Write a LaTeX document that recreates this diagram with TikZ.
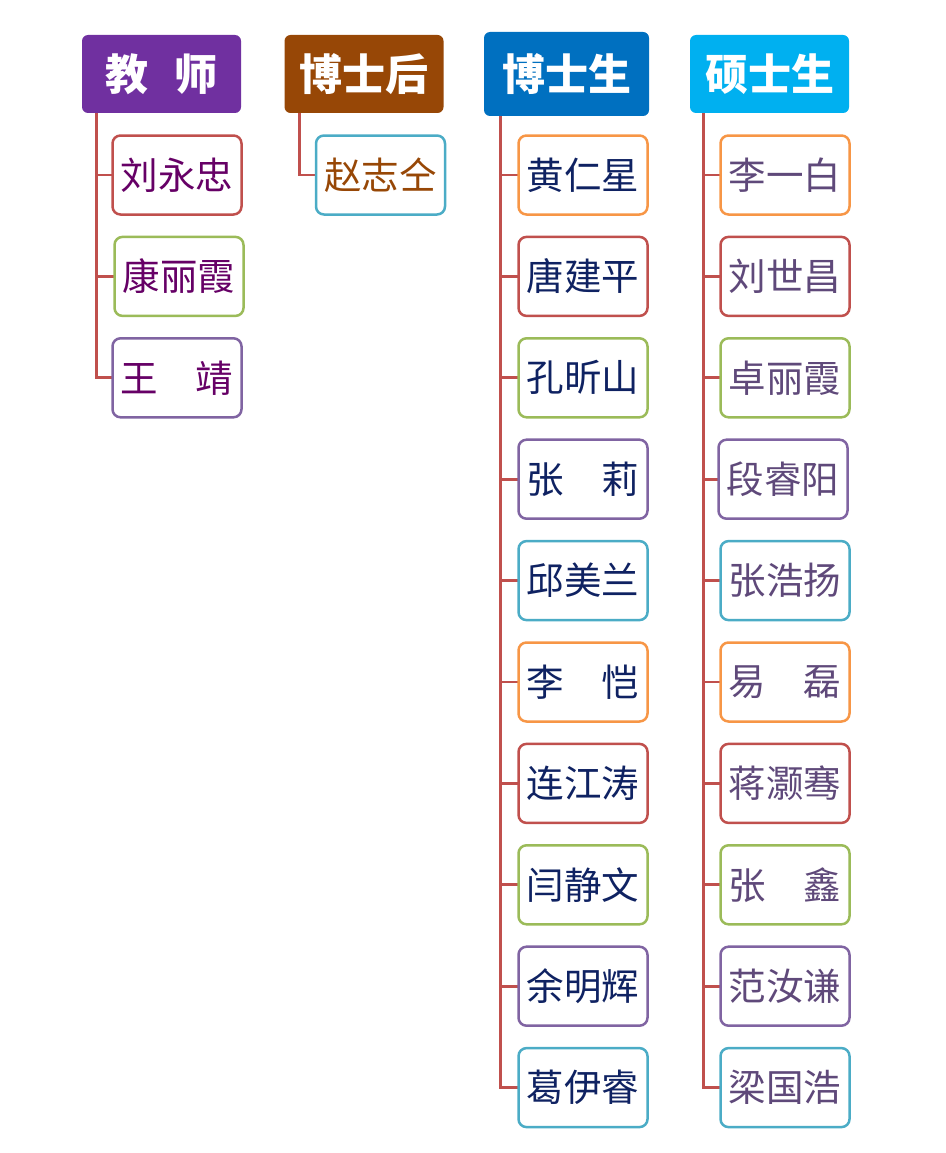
\documentclass[tikz,border=0pt]{standalone}
\usepackage{fontspec}
\setmainfont{Noto Sans CJK SC}
\definecolor{tpurple}{HTML}{7030A0}
\definecolor{pbrown}{HTML}{974706}
\definecolor{dblue}{HTML}{0070C0}
\definecolor{lblue}{HTML}{00B0F0}
\definecolor{bor}{HTML}{F79646}
\definecolor{bre}{HTML}{C0504D}
\definecolor{bgr}{HTML}{9BBB59}
\definecolor{bvi}{HTML}{8064A2}
\definecolor{bte}{HTML}{4BACC6}
\definecolor{ttxt}{HTML}{660066}
\definecolor{dtxt}{HTML}{0F2262}
\definecolor{mtxt}{HTML}{5F497A}

\begin{document}
\begin{tikzpicture}[x=1pt,y=-1pt,
    head/.style={rounded corners=6pt,minimum width=159pt,minimum height=78pt,inner sep=0pt,
      text=white,font=\fontsize{43}{43}\selectfont\bfseries},
    kid/.style={draw,line width=2.5pt,rounded corners=8pt,fill=white,minimum width=129pt,
      minimum height=79pt,inner sep=0pt,font=\fontsize{37.5}{37.5}\selectfont},
    link/.style={draw=bre,line width=2.8pt}]
	\useasboundingbox (0,0) rectangle (945,1153);
	% headers
	\node[head,fill=tpurple] (teach) at (161.5,74) {教\hspace{0.6em}师};
	\node[head,fill=pbrown] (post) at (364,74) {博士后};
	\node[head,fill=dblue,minimum width=165pt,minimum height=84pt] (phd) at (566.5,74) {博士生};
	\node[head,fill=lblue] (mast) at (769.5,74) {硕士生};
	\coordinate (teachbus) at ([xshift=15pt]teach.south west);
	\coordinate (postbus) at ([xshift=15pt]post.south west);
	\coordinate (phdbus) at ([xshift=17pt]phd.south west);
	\coordinate (mastbus) at ([xshift=14pt]mast.south west);
	% teachers
	\foreach \name/\col/\dx [count=\i] in {刘永忠/bre/0,康丽霞/bgr/2,王　靖/bvi/0} {
		\draw[link] (teachbus) |- ({177+\dx},{175+(\i-1)*101.4});
		\node[kid,draw=\col,text=ttxt] (t\i) at ({177+\dx},{175+(\i-1)*101.4}) {\name};
	}
	% postdoc
	\draw[link] (postbus) |- (380.5,175);
	\node[kid,draw=bte,text=pbrown] (p1) at (380.5,175) {赵志仝};
	% phd students
	\foreach \name/\col [count=\i] in {黄仁星/bor,唐建平/bre,孔昕山/bgr,张　莉/bvi,邱美兰/bte,
	    李　恺/bor,连江涛/bre,闫静文/bgr,余明辉/bvi,葛伊睿/bte} {
		\draw[link] (phdbus) |- (583,{175+(\i-1)*101.4});
		\node[kid,draw=\col,text=dtxt] (d\i) at (583,{175+(\i-1)*101.4}) {\name};
	}
	% master students
	\foreach \name/\col/\dx [count=\i] in {李一白/bor/0,刘世昌/bre/0,卓丽霞/bgr/0,段睿阳/bvi/-2,
	    张浩扬/bte/0,易　磊/bor/0,蒋灏骞/bre/0,张　鑫/bgr/0,范汝谦/bvi/0,梁国浩/bte/0} {
		\draw[link] (mastbus) |- ({785+\dx},{175+(\i-1)*101.4});
		\node[kid,draw=\col,text=mtxt] (m\i) at ({785+\dx},{175+(\i-1)*101.4}) {\name};
	}
\end{tikzpicture}
\end{document}
